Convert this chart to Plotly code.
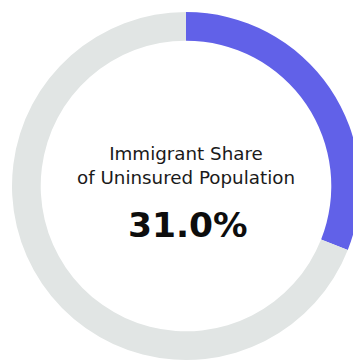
import plotly.graph_objects as go

labels = ["Immigrant", "Other"]
values = [31.0, 69.0]
colors = ["#6161E8", "#E1E5E4"]
title_lines = ["Immigrant Share", "of Uninsured Population"]
value_label = "31.0%"

W, H = 372, 362

fig = go.Figure(go.Pie(
    labels=labels, values=values, hole=0.835, sort=False,
    direction="clockwise", rotation=0,
    marker=dict(colors=colors, line=dict(width=0)),
    textinfo="none", hoverinfo="skip", showlegend=False,
    domain=dict(x=[0, 1], y=[2 / H, 350 / H]),
))

fig.add_annotation(x=186 / W, y=1 - 165.5 / H, xref="paper", yref="paper",
                   text=title_lines[0] + "<br>" + title_lines[1], showarrow=False,
                   font=dict(family="DejaVu Sans", size=18.3, color="#1a1a1a"),
                   align="center", xanchor="center", yanchor="middle")
fig.add_annotation(x=187.5 / W, y=1 - 224.5 / H, xref="paper", yref="paper",
                   text="<b>" + value_label + "</b>", showarrow=False,
                   font=dict(family="DejaVu Sans", size=34.5, color="#0d0d0d"),
                   xanchor="center", yanchor="middle")

fig.update_layout(width=W, height=H, margin=dict(l=0, r=0, t=0, b=0),
                  paper_bgcolor="white", plot_bgcolor="white")
fig.write_html("out.html")
